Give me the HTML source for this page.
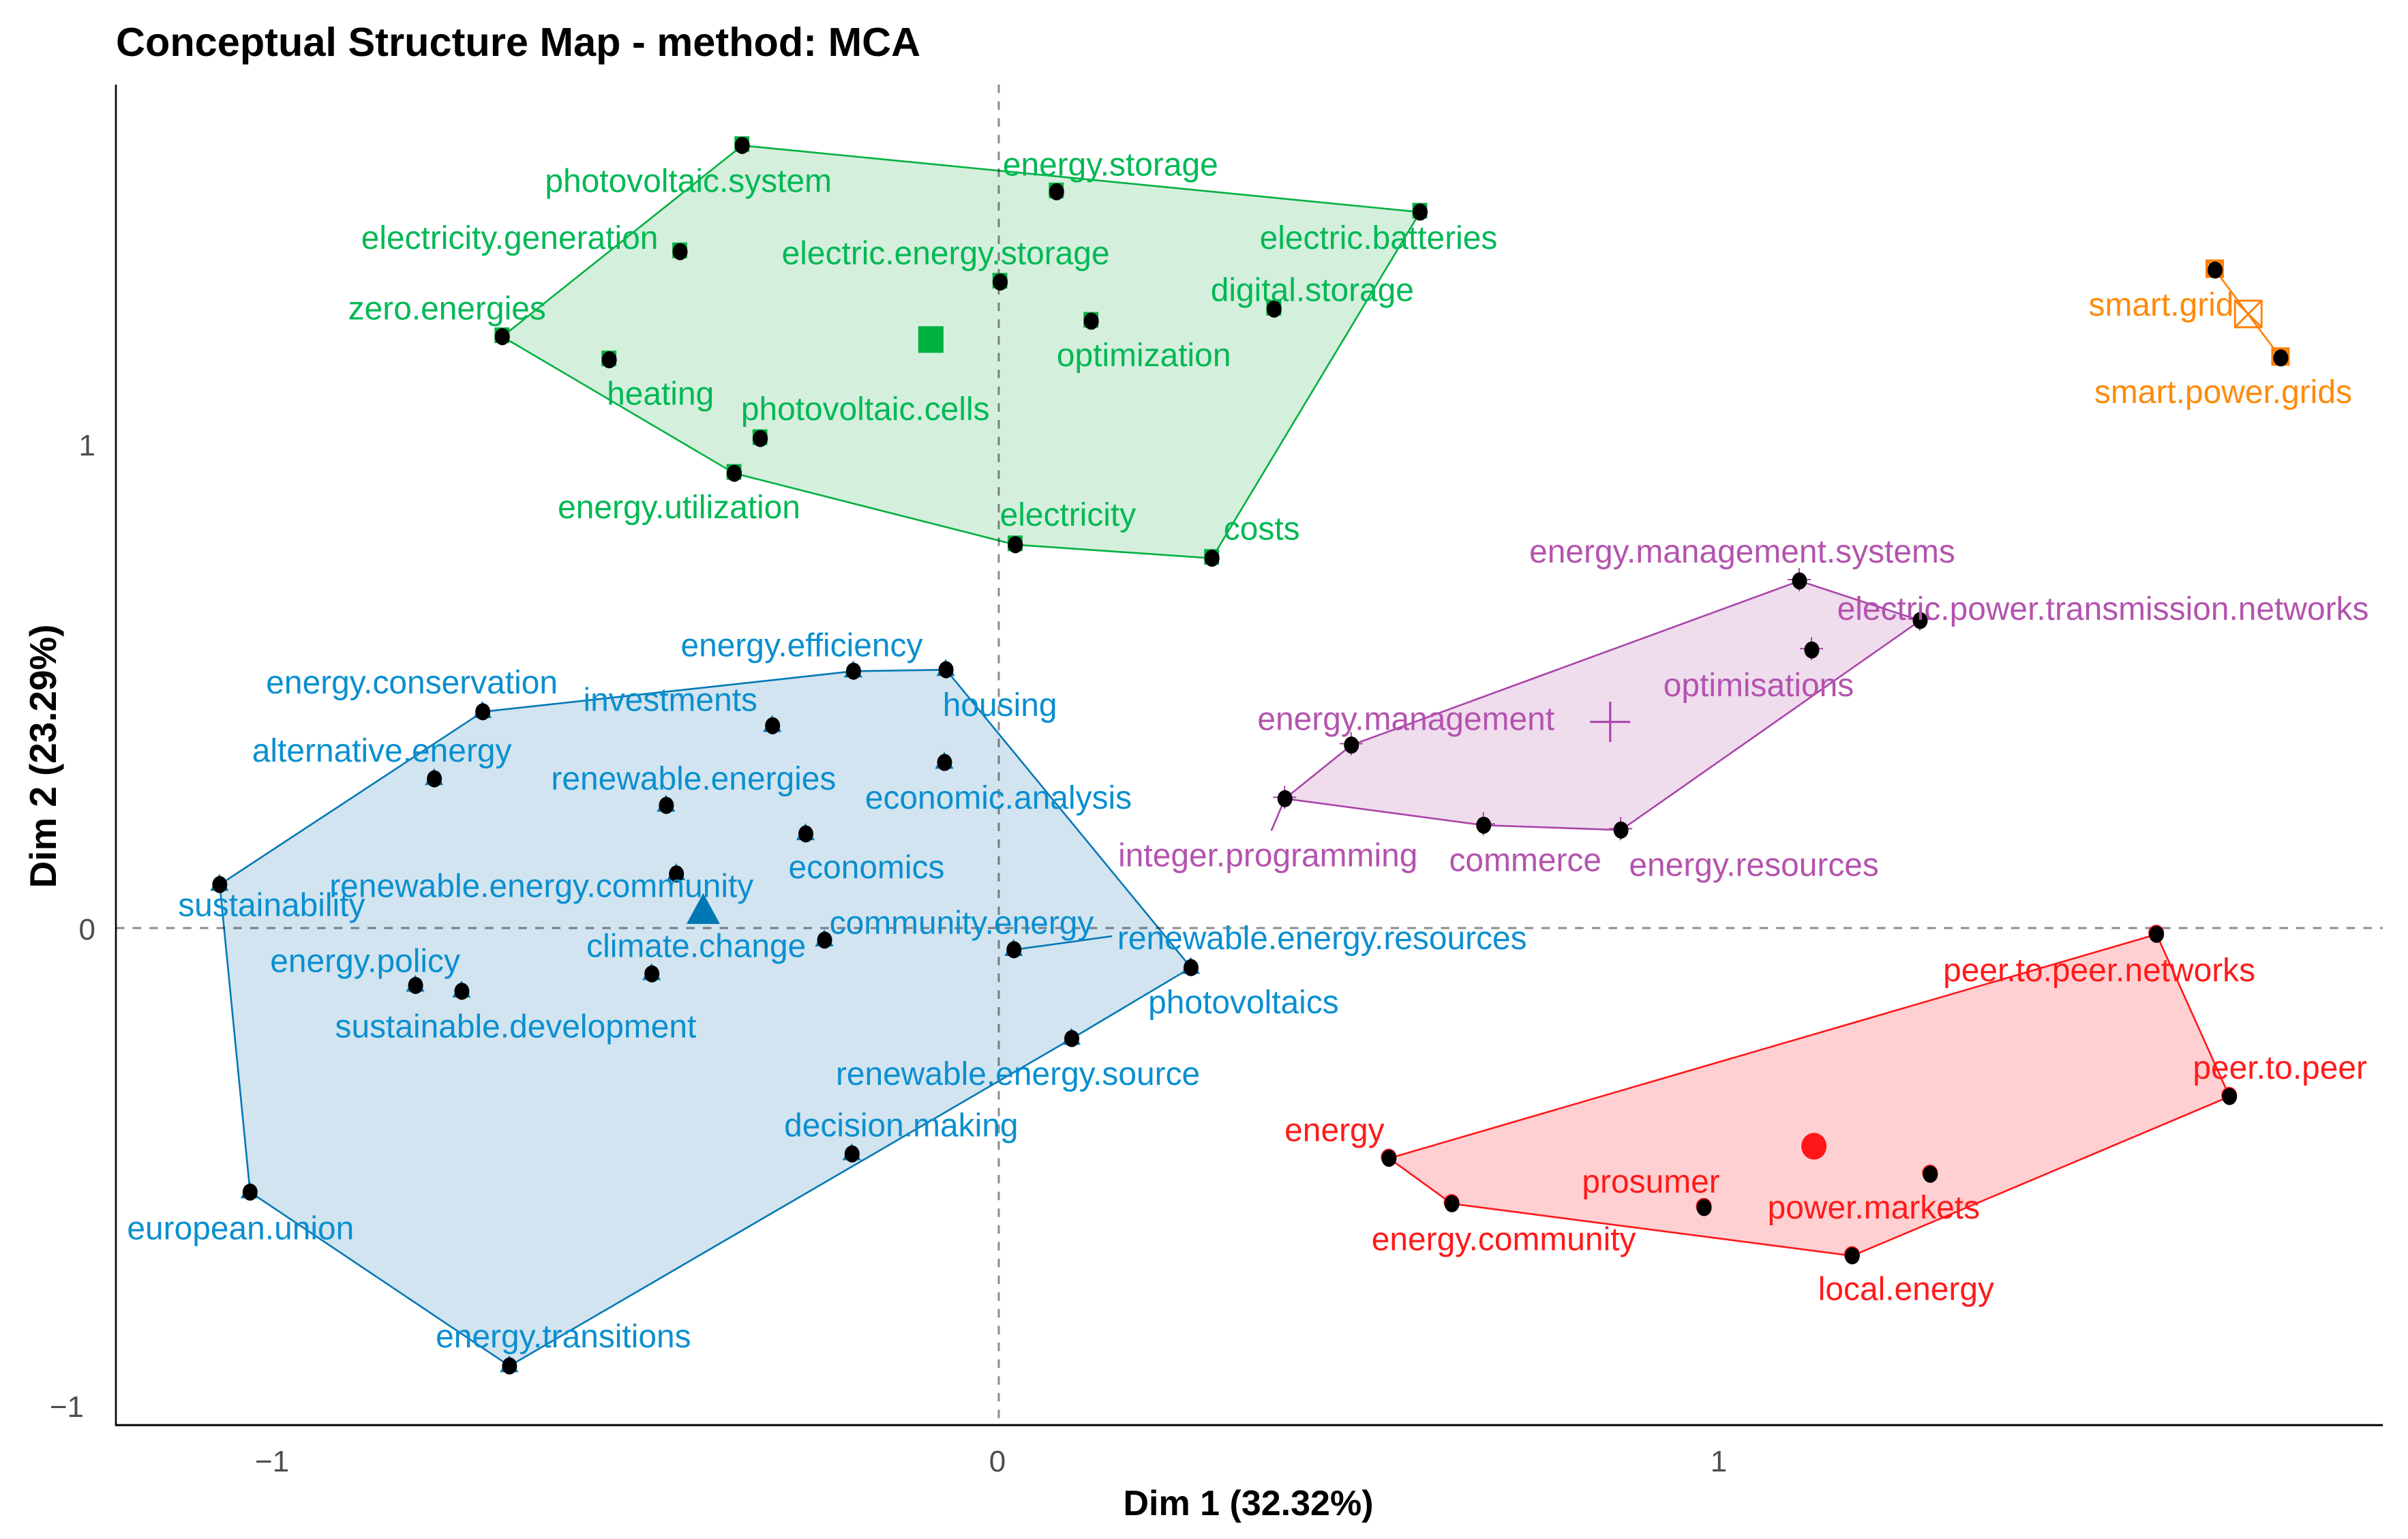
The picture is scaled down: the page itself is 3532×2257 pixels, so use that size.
<!DOCTYPE html>
<html lang="en">
<head>
<meta charset="utf-8">
<title>Conceptual Structure Map - method: MCA</title>
<style>
html,body{margin:0;padding:0;background:#fff;}
svg{display:block;}
text{font-family:"Liberation Sans",sans-serif;}
</style>
</head>
<body>
<svg id="chart" xmlns="http://www.w3.org/2000/svg" width="3532" height="2257" viewBox="0 0 3532 2257">
  <rect x="0" y="0" width="3532" height="2257" fill="#ffffff"/>
  <text x="170" y="82" font-size="59.5" font-weight="700" fill="#000">Conceptual Structure Map - method: MCA</text>
  <text x="1831" y="2222" font-size="52" font-weight="700" fill="#000" text-anchor="middle">Dim 1 (32.32%)</text>
  <text transform="translate(82,1109) rotate(-90)" font-size="54.8" font-weight="700" fill="#000" text-anchor="middle">Dim 2 (23.29%)</text>
  <g id="guides"></g>
  <g id="clusters"></g>
  <g id="axes"></g>
</svg>
<script>
// Tick values
const xTicks = [-1, 0, 1];
const yTicks = [-1, 0, 1];

// Cluster 1 (green)
const greenTerms = ["photovoltaic.system","energy.storage","electricity.generation","electric.energy.storage","optimization","zero.energies","heating","photovoltaic.cells","energy.utilization","electricity","costs","electric.batteries","digital.storage"];
const greenDim1 = [-0.355,0.080,-0.441,0.002,0.128,-0.687,-0.539,-0.330,-0.366,0.023,0.295,0.583,0.381];
const greenDim2 = [1.621,1.525,1.401,1.338,1.257,1.225,1.177,1.014,0.942,0.794,0.766,1.483,1.282];
const greenCentroid = [-0.094,1.219];

// Cluster 2 (blue)
const blueTerms = ["energy.conservation","energy.efficiency","housing","investments","economic.analysis","alternative.energy","renewable.energies","economics","renewable.energy.community","sustainability","community.energy","renewable.energy.resources","photovoltaics","climate.change","energy.policy","sustainable.development","renewable.energy.source","decision.making","european.union","energy.transitions"];
const blueDim1 = [-0.714,-0.201,-0.073,-0.313,-0.075,-0.781,-0.460,-0.267,-0.446,-1.078,-0.241,0.021,0.266,-0.480,-0.807,-0.743,0.101,-0.203,-1.036,-0.677];
const blueDim2 = [0.448,0.532,0.535,0.419,0.343,0.309,0.254,0.195,0.112,0.090,-0.025,-0.045,-0.082,-0.095,-0.119,-0.131,-0.229,-0.468,-0.547,-0.907];
const blueCentroid = [-0.409,0.037];

// Cluster 3 (red)
const redTerms = ["peer.to.peer.networks","peer.to.peer","energy","energy.community","local.energy","power.markets","prosumer"];
const redDim1 = [1.602,1.703,0.540,0.627,1.181,1.289,0.976];
const redDim2 = [-0.013,-0.349,-0.477,-0.571,-0.679,-0.510,-0.579];
const redCentroid = [1.128,-0.452];

// Cluster 4 (purple)
const purpleTerms = ["energy.management.systems","electric.power.transmission.networks","optimisations","energy.management","integer.programming","commerce","energy.resources"];
const purpleDim1 = [1.108,1.275,1.125,0.488,0.396,0.671,0.861];
const purpleDim2 = [0.719,0.637,0.576,0.379,0.268,0.213,0.203];
const purpleCentroid = [0.846,0.427];

// Cluster 5 (orange)
const orangeTerms = ["smart.grid","smart.power.grids"];
const orangeDim1 = [1.683,1.774];
const orangeDim2 = [1.363,1.181];
const orangeCentroid = [1.729,1.272];

// ---- layout below (not data) ----
const PLOT = {left:170, right:3495, top:124, bottom:2090, x0:1465, y0:1361, ux:1060, uy:708};
function xScale(v){ return PLOT.x0 + v*PLOT.ux; }
function yScale(v){ return PLOT.y0 - v*PLOT.uy; }

// label displacement from its point, ggrepel-like, in pixels
const labelNudge = {
 "photovoltaic.system":[-79,54],"energy.storage":[79,-38],"electricity.generation":[-250,-18],"electric.energy.storage":[-80,-40],"optimization":[77,52],"zero.energies":[-81,-39],"heating":[75,52],"photovoltaic.cells":[154,-41],"energy.utilization":[-81,52],"electricity":[77,-42],"costs":[73,-41],"electric.batteries":[-61,40],"digital.storage":[56,-26],
 "energy.conservation":[-104,-41],"energy.efficiency":[-76,-36],"housing":[79,54],"investments":[-150,-36],"economic.analysis":[79,54],"alternative.energy":[-77,-39],"renewable.energies":[40,-37],"economics":[89,51],"renewable.energy.community":[-198,20],"sustainability":[76,32],"community.energy":[201,-23],"renewable.energy.resources":[452,-15],"photovoltaics":[77,53],"climate.change":[65,-39],"energy.policy":[-74,-34],"sustainable.development":[79,54],"renewable.energy.source":[-79,54],"decision.making":[72,-40],"european.union":[-14,55],"energy.transitions":[79,-41],
 "peer.to.peer.networks":[-84,55],"peer.to.peer":[74,-40],"energy":[-80,-39],"energy.community":[76,54],"local.energy":[79,51],"power.markets":[-83,51],"prosumer":[-78,-36],
 "energy.management.systems":[-84,-41],"electric.power.transmission.networks":[268,-15],"optimisations":[-78,54],"energy.management":[80,-36],"integer.programming":[-25,85],"commerce":[61,53.5],"energy.resources":[195,53],
 "smart.grid":[-79,53],"smart.power.grids":[-84.5,52]
};
// leader-line ends relative to point, pixels
const leaderEnd = {"renewable.energy.resources":[144,-20],"integer.programming":[-20,47]};

const clusterDefs = [
 {id:"green", terms:greenTerms, d1:greenDim1, d2:greenDim2, c:greenCentroid, stroke:"#00B140", fill:"#D5EFDD", text:"#00B854", shape:"square"},
 {id:"blue", terms:blueTerms, d1:blueDim1, d2:blueDim2, c:blueCentroid, stroke:"#0078B4", fill:"#D2E4F0", text:"#0A8FCF", shape:"triangle"},
 {id:"red", terms:redTerms, d1:redDim1, d2:redDim2, c:redCentroid, stroke:"#FF1619", fill:"#FFD0D2", text:"#FF1A1A", shape:"circle"},
 {id:"purple", terms:purpleTerms, d1:purpleDim1, d2:purpleDim2, c:purpleCentroid, stroke:"#AA44AA", fill:"#EFDDEE", text:"#B453AE", shape:"plus"},
 {id:"orange", terms:orangeTerms, d1:orangeDim1, d2:orangeDim2, c:orangeCentroid, stroke:"#FF7F00", fill:"#FFE5CC", text:"#FF8A0A", shape:"crossbox"}
];

const NS = "http://www.w3.org/2000/svg";
function mk(tag, attrs, parent){
  const el = document.createElementNS(NS, tag);
  for (const k in attrs) el.setAttribute(k, attrs[k]);
  parent.appendChild(el);
  return el;
}
function convexHull(pts){
  const p = pts.slice().sort((a,b)=>a[0]-b[0]||a[1]-b[1]);
  if (p.length < 3) return p;
  const cross=(o,a,b)=>(a[0]-o[0])*(b[1]-o[1])-(a[1]-o[1])*(b[0]-o[0]);
  const lo=[], up=[];
  for (const q of p){ while(lo.length>=2&&cross(lo[lo.length-2],lo[lo.length-1],q)<=0) lo.pop(); lo.push(q); }
  for (let i=p.length-1;i>=0;i--){ const q=p[i]; while(up.length>=2&&cross(up[up.length-2],up[up.length-1],q)<=0) up.pop(); up.push(q); }
  lo.pop(); up.pop();
  return lo.concat(up);
}
function drawShape(shape, x, y, r, color, parent, big){
  let el;
  if (shape==="square"){
    el = mk("rect",{x:x-r*0.95,y:y-r,width:1.9*r,height:2*r,fill:color},parent);
  } else if (shape==="triangle"){
    el = mk("polygon",{points:(x)+","+(y-r*1.15)+" "+(x+r*1.13)+","+(y+r*0.93)+" "+(x-r*1.13)+","+(y+r*0.93),fill:color},parent);
  } else if (shape==="circle"){
    el = mk("ellipse",{cx:x,cy:y,rx:r,ry:r*1.06,fill:color},parent);
  } else if (shape==="plus"){
    el = mk("path",{d:"M"+(x-r)+" "+y+"H"+(x+r)+"M"+x+" "+(y-r)+"V"+(y+r),stroke:color,"stroke-width":big?3.2:2,fill:"none"},parent);
  } else {
    el = mk("path",{d:"M"+(x-r)+" "+(y-r)+"H"+(x+r)+"V"+(y+r)+"H"+(x-r)+"ZM"+(x-r)+" "+(y-r)+"L"+(x+r)+" "+(y+r)+"M"+(x+r)+" "+(y-r)+"L"+(x-r)+" "+(y+r),stroke:color,"stroke-width":big?2.8:4,fill:"none"},parent);
  }
  return el;
}

// zero reference lines
const guides = document.getElementById("guides");
const vGuide = mk("line",{x1:xScale(0),x2:xScale(0),y1:PLOT.top,y2:PLOT.bottom,stroke:"#8C8C8C","stroke-width":3,"stroke-dasharray":"12.5 12.1"},guides);


const hGuide = mk("line",{x1:PLOT.left,x2:PLOT.right,y1:yScale(0),y2:yScale(0),stroke:"#8C8C8C","stroke-width":3,"stroke-dasharray":"12.5 12.1"},guides);



// clusters
const layer = document.getElementById("clusters");
clusterDefs.forEach(function(cl){
  const g = mk("g",{},layer);
  
  
  const pts = cl.terms.map((t,i)=>[xScale(cl.d1[i]),yScale(cl.d2[i])]);
  const hull = convexHull(pts);
  const poly = mk("polygon",{points:hull.map(p=>p.join(",")).join(" "),fill:cl.fill,stroke:cl.stroke,"stroke-width":2.6,"stroke-linejoin":"round"},g);
  
  
  poly.style.mixBlendMode = "multiply";

  cl.terms.forEach(function(t,i){
    const x=pts[i][0], y=pts[i][1];
    if (leaderEnd[t]){
      const seg = mk("line",{x1:x,y1:y,x2:x+leaderEnd[t][0],y2:y+leaderEnd[t][1],stroke:cl.stroke,"stroke-width":2.6},g);
      
      
    }
    const mark = drawShape(cl.shape,x-0.5,y-2,cl.shape==="plus"?17:(cl.shape==="triangle"?12:11.5),cl.stroke,g,false);
    
    
    const dot = mk("ellipse",{cx:x,cy:y,rx:11,ry:12.5,fill:"#000"},g);
    
    
  });
  cl.terms.forEach(function(t,i){
    const n = labelNudge[t]||[0,-30];
    const lab = mk("text",{x:pts[i][0]+n[0],y:pts[i][1]+n[1]+14,"text-anchor":"middle","font-size":47.9,fill:cl.text},g);
    lab.textContent = t;
    
    
  });
  const cm = drawShape(cl.shape,xScale(cl.c[0]),yScale(cl.c[1]),cl.shape==="triangle"?21.7:(cl.shape==="plus"?29.5:(cl.shape==="circle"?18.5:19.5)),cl.stroke,g,true);
  
  
});

// axes
const axes = document.getElementById("axes");
const yLine = mk("line",{x1:PLOT.left,x2:PLOT.left,y1:PLOT.top,y2:PLOT.bottom+1.5,stroke:"#000","stroke-width":2.6},axes);


const xLine = mk("line",{x1:PLOT.left,x2:PLOT.right,y1:PLOT.bottom,y2:PLOT.bottom,stroke:"#000","stroke-width":3},axes);


xTicks.forEach(function(v){
  const t = mk("text",{x:xScale(v)-(v<0?6:v>0?4:2),y:2158,"text-anchor":"middle","font-size":44,fill:"#4D4D4D"},axes);
  t.textContent = (v<0?"\u2212":"")+Math.abs(v);
  
  
});
yTicks.forEach(function(v){
  const t = mk("text",{x:v<0?123:140,y:yScale(v)+(v<0?9:v>0?15:17),"text-anchor":"end","font-size":44,fill:"#4D4D4D"},axes);
  t.textContent = (v<0?"\u2212":"")+Math.abs(v);
  
  
});
</script>
</body>
</html>
